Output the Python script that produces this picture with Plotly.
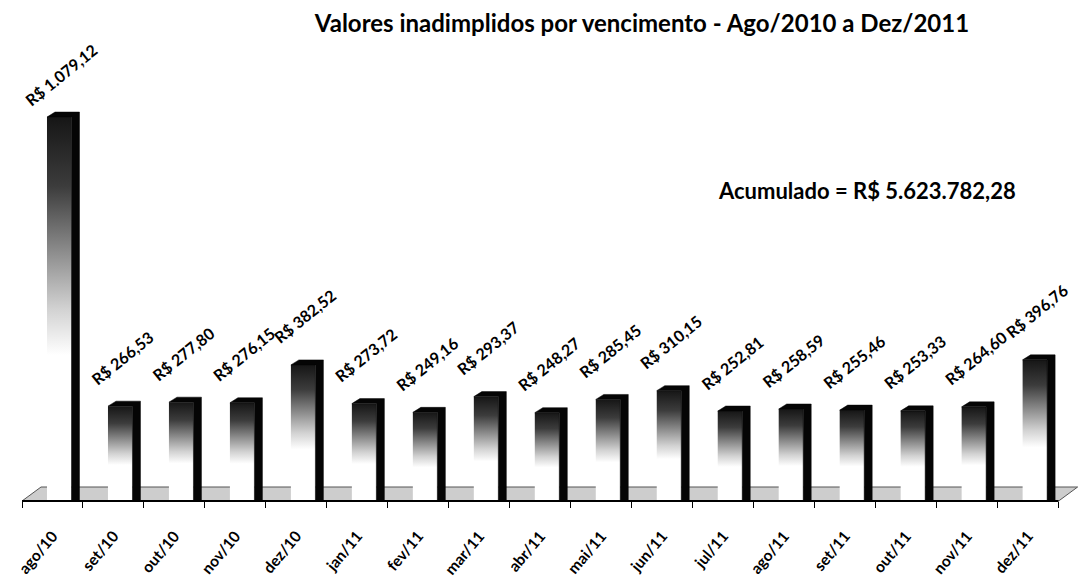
import plotly.graph_objects as go

# Monthly overdue amounts (R$ thousand) by due month
months = ["ago/10", "set/10", "out/10", "nov/10", "dez/10", "jan/11", "fev/11",
          "mar/11", "abr/11", "mai/11", "jun/11", "jul/11", "ago/11", "set/11",
          "out/11", "nov/11", "dez/11"]
values = [1079.12, 266.53, 277.80, 276.15, 382.52, 273.72, 249.16, 293.37,
          248.27, 285.45, 310.15, 252.81, 258.59, 255.46, 253.33, 264.60, 396.76]
chart_title = "Valores inadimplidos por vencimento - Ago/2010 a Dez/2011"
total_label = "Acumulado = R$ 5.623.782,28"

FONT = "Lato"
W, H = 1090, 586
ML, MR, MT, MB = 22, 7, 60, 85
X_RANGE = (-0.5, 16.9)
Y_RANGE = (0, 1239.5)
px_x = (W - ML - MR) / (X_RANGE[1] - X_RANGE[0])   # pixels per category
px_y = (H - MT - MB) / (Y_RANGE[1] - Y_RANGE[0])   # pixels per R$ thousand

# pseudo-3D geometry (in pixels, converted to axis units)
FRONT_L, FRONT_R = -5.5 / px_x, 19 / px_x
BAR_DX, BAR_DY = 8 / px_x, 5 / px_y
FLOOR_DX, FLOOR_DY = 19 / px_x, 14 / px_y

# data label placement: centre offset above the bar top, kept below the title
LABEL_DX, LABEL_GAP, LABEL_MIN_Y = 9 / px_x, 49, 75


def brl(v):
    s = f"{v:,.2f}"
    return "R$ " + s.replace(",", "#").replace(".", ",").replace("#", ".")


fig = go.Figure()

# floor
n = len(values)
x0, x1 = -0.5, n - 0.5
fig.add_trace(go.Scatter(
    x=[x0, x1, x1 + FLOOR_DX, x0 + FLOOR_DX, x0],
    y=[0, 0, FLOOR_DY, FLOOR_DY, 0],
    mode="lines", fill="toself", fillcolor="#cdcdcd",
    line=dict(color="#555555", width=1), hoverinfo="skip", showlegend=False))

# bar front faces with vertical gradient
grad = [[0.0, "#ffffff"], [0.38, "#ffffff"], [0.5, "#d2d2d2"],
        [0.65, "#8c8c8c"], [0.82, "#3c3c3c"], [1.0, "#161616"]]
for i, v in enumerate(values):
    l, r = i + FRONT_L, i + FRONT_R
    fig.add_trace(go.Scatter(
        x=[l, r, r, l, l], y=[0, 0, v, v, 0],
        mode="lines", fill="toself", line=dict(width=0, color="rgba(0,0,0,0)"),
        fillgradient=dict(type="vertical", colorscale=grad),
        hoverinfo="skip", showlegend=False))

# dark top and side faces
sx, sy = [], []
for i, v in enumerate(values):
    l, r = i + FRONT_L, i + FRONT_R
    sx += [l, l + BAR_DX, r + BAR_DX, r + BAR_DX, r, r, l, None]
    sy += [v, v + BAR_DY, v + BAR_DY, 0, 0, v, v, None]
fig.add_trace(go.Scatter(
    x=sx, y=sy, mode="lines", fill="toself", fillcolor="#050505",
    line=dict(width=0.5, color="#050505"), hoverinfo="skip", showlegend=False))

# value labels
for i, v in enumerate(values):
    top_px = MT + (Y_RANGE[1] - v) * px_y
    centre_px = max(top_px - LABEL_GAP, LABEL_MIN_Y)
    fig.add_annotation(
        x=i + LABEL_DX, y=v, yshift=top_px - centre_px, text=brl(v),
        showarrow=False, textangle=-39, xanchor="center", yanchor="middle",
        font=dict(family=FONT, size=16, color="black", weight="bold"))

fig.add_annotation(
    xref="paper", yref="paper", x=(867 - ML) / (W - ML - MR),
    y=(H - MB - 191) / (H - MT - MB), text=total_label, showarrow=False,
    xanchor="center", yanchor="middle",
    font=dict(family=FONT, size=22, color="black", weight="bold"))

# axis baseline
fig.add_shape(type="line", xref="x", yref="paper", x0=x0, x1=x1, y0=0, y1=0,
              line=dict(color="black", width=2))

fig.update_layout(
    width=W, height=H, margin=dict(l=ML, r=MR, t=MT, b=MB),
    paper_bgcolor="white", plot_bgcolor="white",
    title=dict(text=chart_title, xref="container", yref="container",
               x=642 / W, y=1 - 24 / H, xanchor="center", yanchor="middle",
               font=dict(family=FONT, size=24, color="black", weight="bold")),
    xaxis=dict(range=list(X_RANGE), tickmode="array", automargin=False,
               tickvals=list(range(n)), ticktext=months, ticks="",
               tickangle=-50, ticklabelstandoff=22, showgrid=False,
               zeroline=False, showline=False,
               tickfont=dict(family=FONT, size=15.5, color="black", weight="bold"),
               minor=dict(tickmode="array", tickvals=[i - 0.5 for i in range(n + 1)],
                          ticks="outside", ticklen=6, tickwidth=1,
                          tickcolor="black", showgrid=False)),
    yaxis=dict(range=list(Y_RANGE), visible=False, showgrid=False,
               automargin=False),
)

fig.write_html("out.html")
